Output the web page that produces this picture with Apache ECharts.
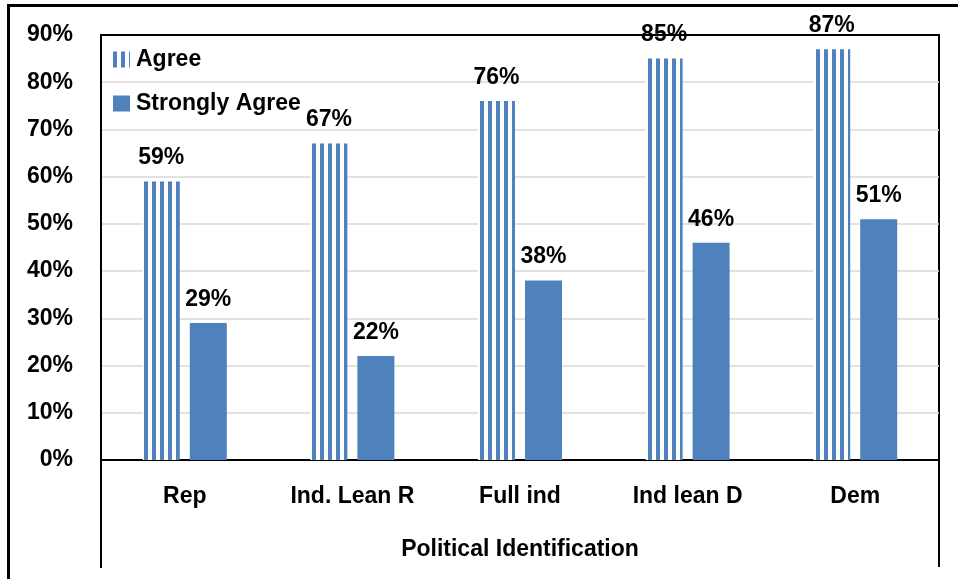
<!DOCTYPE html>
<html>
<head>
<meta charset="utf-8">
<script src="https://cdn.jsdelivr.net/npm/echarts@6/dist/echarts.min.js"></script>
<style>
  html, body { margin: 0; padding: 0; background: #fff; }
  #chart { width: 958px; height: 579px; }
</style>
</head>
<body>
<div id="chart"></div>
<script>
// data
const categories = ["Rep", "Ind. Lean R", "Full ind", "Ind lean D", "Dem"];
const agree = [59, 67, 76, 85, 87];
const stronglyAgree = [29, 22, 38, 46, 51];
const seriesNames = ["Agree", "Strongly Agree"];
const axisTitle = "Political Identification";

const FONT = "Liberation Sans";
const BLUE = "#4F81BD";

// vertical stripe pattern for the Agree bars
function stripes() {
  const c = document.createElement("canvas");
  c.width = 8;
  c.height = 8;
  const ctx = c.getContext("2d");
  ctx.fillStyle = "#fff";
  ctx.fillRect(0, 0, 8, 8);
  ctx.fillStyle = BLUE;
  ctx.fillRect(0, 0, 4, 8);
  return c;
}

const chart = echarts.init(document.getElementById("chart"), null, { renderer: "canvas" });

const txt = { fontFamily: FONT, fontWeight: "bold", fontSize: 23, color: "#000" };

const option = {
  animation: false,
  backgroundColor: "#fff",
  grid: {
    left: 101, right: 19, top: 35, bottom: 119,
    show: true, borderColor: "#000", borderWidth: 2,
  },
  legend: {
    orient: "vertical",
    left: 113, top: 48,
    padding: 0,
    icon: "rect",
    itemWidth: 17, itemHeight: 16, itemGap: 21,
    textStyle: { ...txt, padding: [0, 0, 0, 1] },
    data: seriesNames,
  },
  xAxis: {
    type: "category",
    data: categories,
    axisLine: { lineStyle: { color: "#000", width: 2 } },
    axisTick: { show: false },
    axisLabel: { ...txt, margin: 25 },
    name: axisTitle,
    nameLocation: "middle",
    nameGap: 78,
    nameTextStyle: txt,
  },
  yAxis: {
    type: "value",
    min: 0, max: 90, interval: 10,
    axisLine: { show: true, lineStyle: { color: "#000", width: 2 } },
    axisTick: { show: false },
    axisLabel: { ...txt, margin: 28, formatter: "{value}%" },
    splitLine: { lineStyle: { color: "#d9d9d9", width: 1.5 } },
  },
  series: [
    {
      name: seriesNames[0],
      type: "bar",
      data: agree,
      barWidth: 37,
      barGap: "27%",
      itemStyle: { color: { image: stripes(), repeat: "repeat" } },
      label: { show: true, position: "top", distance: 12, formatter: "{c}%", ...txt },
    },
    {
      name: seriesNames[1],
      type: "bar",
      data: stronglyAgree,
      barWidth: 37,
      itemStyle: { color: BLUE },
      label: { show: true, position: "top", distance: 12, formatter: "{c}%", ...txt },
    },
  ],
  graphic: [
    // outer frame
    { type: "line", shape: { x1: 7, y1: 5.5, x2: 958, y2: 5.5 }, style: { stroke: "#000", lineWidth: 3 } },
    { type: "line", shape: { x1: 8.5, y1: 4, x2: 8.5, y2: 579 }, style: { stroke: "#000", lineWidth: 3 } },
    // top edge of the plot box, over the 90% grid line
    { type: "line", z: 100, shape: { x1: 100, y1: 35, x2: 940, y2: 35 }, style: { stroke: "#000", lineWidth: 2 } },
    // plot box sides running down past the axis
    { type: "line", shape: { x1: 101, y1: 460, x2: 101, y2: 568 }, style: { stroke: "#000", lineWidth: 2 } },
    { type: "line", shape: { x1: 939, y1: 460, x2: 939, y2: 567 }, style: { stroke: "#000", lineWidth: 2 } },
  ],
};

chart.setOption(option);
</script>
</body>
</html>
